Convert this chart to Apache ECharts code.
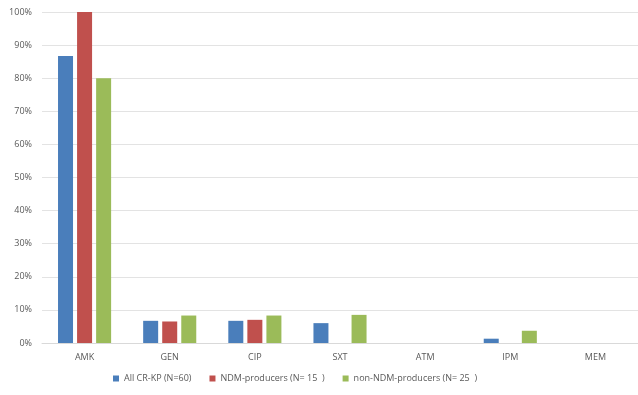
<!DOCTYPE html>
<html>
<head>
<meta charset="utf-8">
<script src="https://cdn.jsdelivr.net/npm/echarts@6/dist/echarts.min.js"></script>
<style>
    html, body { margin: 0; padding: 0; background: #fff; }
    #chart { width: 638px; height: 395px; }
</style>
</head>
<body>
<div id="chart"></div>
<script>
// antibiotics on the x axis
const categories = ['AMK', 'GEN', 'CIP', 'SXT', 'ATM', 'IPM', 'MEM']

// resistance rate, percent
const allCrkp = [86.7, 6.7, 6.7, 6.0, 0, 1.3, 0]
const ndmProducers = [100, 6.5, 7.0, 0, 0, 0, 0]
const nonNdmProducers = [80, 8.3, 8.3, 8.5, 0, 3.7, 0]

const seriesNames = ['All CR-KP (N=60)', 'NDM-producers (N= 15  )', 'non-NDM-producers (N= 25  )']
const colors = ['#4a7ebb', '#c0504d', '#9bbb59']

const chart = echarts.init(document.getElementById('chart'), null, {renderer: 'canvas'})

const barStyle = (name, data, color) => ({
    name: name,
    type: 'bar',
    data: data,
    barWidth: 15,
    barGap: '27%',
    itemStyle: {color: color}
})

const option = {
    animation: false,
    textStyle: {fontFamily: 'Open Sans, sans-serif'},
    grid: {
        left: 42,
        right: 0,
        top: 12,
        bottom: 52
    },
    legend: {
        bottom: 7,
        left: 108,
        itemWidth: 6,
        itemHeight: 6,
        itemGap: 18,
        icon: 'rect',
        textStyle: {fontSize: 9, color: '#595959'},
        data: seriesNames
    },
    xAxis: {
        type: 'category',
        data: categories,
        axisLine: {lineStyle: {color: '#d9d9d9'}},
        axisTick: {show: false},
        axisLabel: {fontSize: 9, color: '#595959', margin: 10}
    },
    yAxis: {
        type: 'value',
        min: 0,
        max: 100,
        interval: 10,
        axisLine: {show: false},
        axisTick: {show: false},
        axisLabel: {fontSize: 9, color: '#595959', margin: 10, formatter: '{value}%'},
        splitLine: {lineStyle: {color: '#e3e3e3'}}
    },
    series: [
        barStyle(seriesNames[0], allCrkp, colors[0]),
        barStyle(seriesNames[1], ndmProducers, colors[1]),
        barStyle(seriesNames[2], nonNdmProducers, colors[2])
    ]
}

chart.setOption(option)
</script>
</body>
</html>
